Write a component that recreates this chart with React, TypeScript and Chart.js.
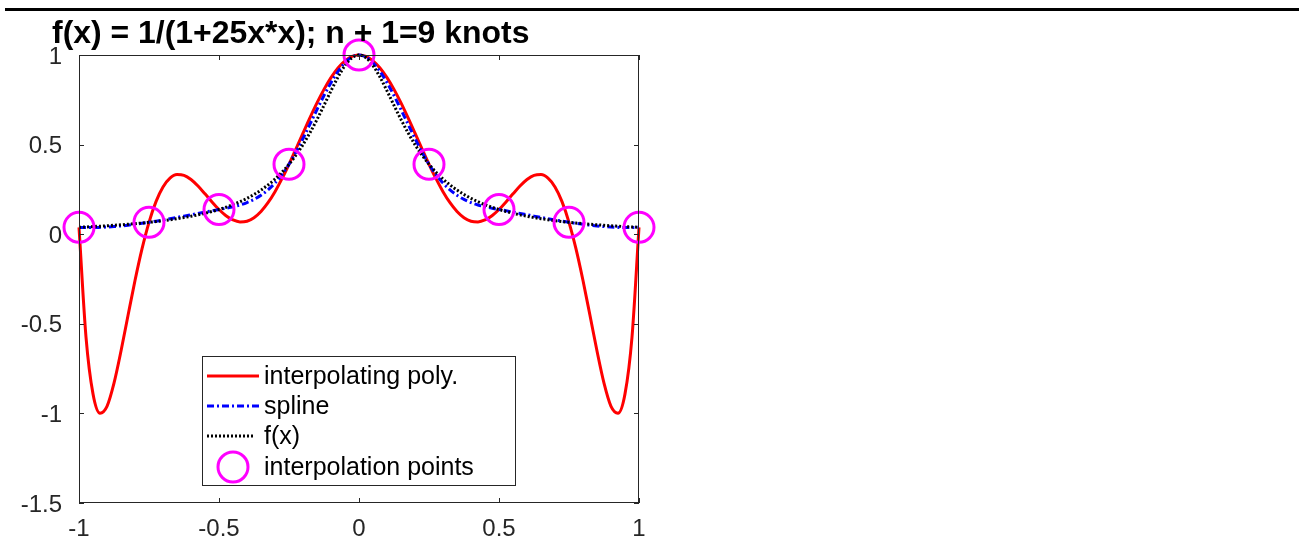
import { useEffect, useRef } from "react";
import { Chart, registerables } from "chart.js";

Chart.register(...registerables);

const W = 1299;
const H = 540;

const xs = [
  -1, -0.975, -0.95, -0.925, -0.9, -0.875, -0.85, -0.825, -0.8, -0.775,
  -0.75, -0.725, -0.7, -0.675, -0.65, -0.625, -0.6, -0.575, -0.55, -0.525,
  -0.5, -0.475, -0.45, -0.425, -0.4, -0.375, -0.35, -0.325, -0.3, -0.275,
  -0.25, -0.225, -0.2, -0.175, -0.15, -0.125, -0.1, -0.075, -0.05, -0.025,
  0,
  0.025, 0.05, 0.075, 0.1, 0.125, 0.15, 0.175, 0.2, 0.225, 0.25,
  0.275, 0.3, 0.325, 0.35, 0.375, 0.4, 0.425, 0.45, 0.475, 0.5,
  0.525, 0.55, 0.575, 0.6, 0.625, 0.65, 0.675, 0.7, 0.725, 0.75,
  0.775, 0.8, 0.825, 0.85, 0.875, 0.9, 0.925, 0.95, 0.975, 1,
];

const polyValues = [
  0.0385, -0.5738, -0.891, -0.9985, -0.9604, -0.831, -0.652, -0.4539, -0.2587, -0.0823,
  0.0664, 0.182, 0.2637, 0.3129, 0.3327, 0.3283, 0.3049, 0.2686, 0.2252, 0.1799,
  0.1379, 0.1033, 0.0794, 0.0686, 0.0726, 0.092, 0.1267, 0.1756, 0.2374, 0.3098,
  0.3902, 0.4759, 0.5636, 0.6503, 0.7328, 0.8083, 0.874, 0.9277, 0.9674, 0.9918,
  1.0,
  0.9918, 0.9674, 0.9277, 0.874, 0.8083, 0.7328, 0.6503, 0.5636, 0.4759, 0.3902,
  0.3098, 0.2374, 0.1756, 0.1267, 0.092, 0.0726, 0.0686, 0.0794, 0.1033, 0.1379,
  0.1799, 0.2252, 0.2686, 0.3049, 0.3283, 0.3327, 0.3129, 0.2637, 0.182, 0.0664,
  -0.0823, -0.2587, -0.4539, -0.652, -0.831, -0.9604, -0.9985, -0.891, -0.5738, 0.0385,
];

const splineValues = [
  0.0385, 0.0373, 0.0372, 0.0382, 0.04, 0.0427, 0.0461, 0.0503, 0.0551, 0.0605,
  0.0664, 0.0727, 0.0794, 0.0864, 0.0936, 0.101, 0.1085, 0.116, 0.1234, 0.1308,
  0.1379, 0.145, 0.153, 0.1631, 0.1765, 0.1943, 0.2176, 0.2477, 0.2857, 0.3329,
  0.3902, 0.4583, 0.5342, 0.6144, 0.6954, 0.7737, 0.8457, 0.9079, 0.9567, 0.9886,
  1.0,
  0.9886, 0.9567, 0.9079, 0.8457, 0.7737, 0.6954, 0.6144, 0.5342, 0.4583, 0.3902,
  0.3329, 0.2857, 0.2477, 0.2176, 0.1943, 0.1765, 0.1631, 0.153, 0.145, 0.1379,
  0.1308, 0.1234, 0.116, 0.1085, 0.101, 0.0936, 0.0864, 0.0794, 0.0727, 0.0664,
  0.0605, 0.0551, 0.0503, 0.0461, 0.0427, 0.04, 0.0382, 0.0372, 0.0373, 0.0385,
];

const fValues = [
  0.0385, 0.0404, 0.0424, 0.0447, 0.0471, 0.0497, 0.0525, 0.0555, 0.0588, 0.0624,
  0.0664, 0.0707, 0.0755, 0.0807, 0.0865, 0.0929, 0.1, 0.1079, 0.1168, 0.1267,
  0.1379, 0.1506, 0.1649, 0.1813, 0.2, 0.2215, 0.2462, 0.2747, 0.3077, 0.3459,
  0.3902, 0.4414, 0.5, 0.5664, 0.64, 0.7191, 0.8, 0.8767, 0.9412, 0.9846,
  1.0,
  0.9846, 0.9412, 0.8767, 0.8, 0.7191, 0.64, 0.5664, 0.5, 0.4414, 0.3902,
  0.3459, 0.3077, 0.2747, 0.2462, 0.2215, 0.2, 0.1813, 0.1649, 0.1506, 0.1379,
  0.1267, 0.1168, 0.1079, 0.1, 0.0929, 0.0865, 0.0807, 0.0755, 0.0707, 0.0664,
  0.0624, 0.0588, 0.0555, 0.0525, 0.0497, 0.0471, 0.0447, 0.0424, 0.0404, 0.0385,
];

const knotX = [-1, -0.75, -0.5, -0.25, 0, 0.25, 0.5, 0.75, 1];
const knotY = [0.0385, 0.0664, 0.1379, 0.3902, 1.0, 0.3902, 0.1379, 0.0664, 0.0385];

const xTickValues = [-1, -0.5, 0, 0.5, 1];
const xTickLabels = ["-1", "-0.5", "0", "0.5", "1"];
const yTickValues = [-1.5, -1, -0.5, 0, 0.5, 1];
const yTickLabels = ["-1.5", "-1", "-0.5", "0", "0.5", "1"];

const titleText = "f(x) = 1/(1+25x*x); n + 1=9 knots";
const legendLabels = ["interpolating poly.", "spline", "f(x)", "interpolation points"];

const RED = "#ff0000";
const BLUE = "#0000ff";
const BLACK = "#000000";
const MAGENTA = "#ff00ff";
const AXIS = "#262626";
const FONT = '"Liberation Sans", Arial, sans-serif';

const framePlugin = {
  id: "matlabFrame",
  afterDraw(chart: any) {
    const ctx: CanvasRenderingContext2D = chart.ctx;
    const sx = chart.scales.x;
    const sy = chart.scales.y;
    const { left, right, top, bottom } = chart.chartArea;
    ctx.save();

    // top rule
    ctx.fillStyle = "#000";
    ctx.fillRect(5, 8, W - 5, 3);

    // axes box
    ctx.strokeStyle = AXIS;
    ctx.lineWidth = 1;
    ctx.setLineDash([]);
    ctx.strokeRect(left + 0.5, top + 0.5, right - left - 1, bottom - top - 1);

    // inward ticks
    ctx.beginPath();
    xTickValues.forEach((v) => {
      const px = Math.round(sx.getPixelForValue(v)) + 0.5;
      ctx.moveTo(px, bottom);
      ctx.lineTo(px, bottom - 5);
      ctx.moveTo(px, top);
      ctx.lineTo(px, top + 5);
    });
    yTickValues.forEach((v) => {
      const py = Math.round(sy.getPixelForValue(v)) + 0.5;
      ctx.moveTo(left, py);
      ctx.lineTo(left + 5, py);
      ctx.moveTo(right, py);
      ctx.lineTo(right - 5, py);
    });
    ctx.stroke();

    // tick labels
    ctx.fillStyle = AXIS;
    ctx.font = `24px ${FONT}`;
    ctx.textAlign = "center";
    ctx.textBaseline = "middle";
    xTickValues.forEach((v, i) => {
      ctx.fillText(xTickLabels[i], sx.getPixelForValue(v), bottom + 26);
    });
    ctx.textAlign = "right";
    ctx.textBaseline = "middle";
    yTickValues.forEach((v, i) => {
      ctx.fillText(yTickLabels[i], left - 17, sy.getPixelForValue(v) + 2);
    });

    // title
    ctx.fillStyle = "#000";
    ctx.font = `bold 31px ${FONT}`;
    ctx.textAlign = "left";
    ctx.textBaseline = "alphabetic";
    ctx.save();
    ctx.translate(52, 43);
    ctx.scale(1.03, 1);
    ctx.fillText(titleText, 0, 0);
    ctx.restore();

    // legend
    const lx = 202.5, ly = 356.5, lw = 313, lh = 129;
    ctx.fillStyle = "#fff";
    ctx.fillRect(lx, ly, lw, lh);
    ctx.strokeStyle = AXIS;
    ctx.lineWidth = 1;
    ctx.strokeRect(lx, ly, lw, lh);

    const rows = [376, 406, 436, 467];
    const x0 = 207, x1 = 259;
    ctx.lineWidth = 3;
    ctx.strokeStyle = RED;
    ctx.setLineDash([]);
    ctx.beginPath(); ctx.moveTo(x0, rows[0]); ctx.lineTo(x1, rows[0]); ctx.stroke();
    ctx.strokeStyle = BLUE;
    ctx.setLineDash([7, 3, 2, 3]);
    ctx.beginPath(); ctx.moveTo(x0, rows[1]); ctx.lineTo(x1, rows[1]); ctx.stroke();
    ctx.strokeStyle = BLACK;
    ctx.setLineDash([2, 2]);
    ctx.beginPath(); ctx.moveTo(x0, rows[2]); ctx.lineTo(x1 - 4, rows[2]); ctx.stroke();
    ctx.setLineDash([]);
    ctx.strokeStyle = MAGENTA;
    ctx.beginPath(); ctx.arc(233, rows[3], 15, 0, Math.PI * 2); ctx.stroke();

    ctx.fillStyle = "#000";
    ctx.font = `25px ${FONT}`;
    ctx.textAlign = "left";
    ctx.textBaseline = "middle";
    legendLabels.forEach((t, i) => ctx.fillText(t, 264, rows[i] + 1));

    ctx.restore();
  },
};

export default function App() {
  const ref = useRef<HTMLCanvasElement>(null);

  useEffect(() => {
    const toXY = (ys: number[]) => xs.map((x, i) => ({ x, y: ys[i] }));
    const chart = new Chart(ref.current as HTMLCanvasElement, {
      type: "scatter",
      data: {
        datasets: [
          {
            label: legendLabels[3],
            data: knotX.map((x, i) => ({ x, y: knotY[i] })),
            showLine: false,
            pointRadius: 15,
            pointBorderWidth: 3,
            pointBorderColor: MAGENTA,
            pointBackgroundColor: "rgba(0,0,0,0)",
            clip: false,
            order: 0,
          } as any,
          {
            label: legendLabels[2],
            data: toXY(fValues),
            showLine: true,
            borderColor: BLACK,
            borderWidth: 3,
            borderDash: [2, 2],
            pointRadius: 0,
            cubicInterpolationMode: "monotone",
            clip: false,
            order: 1,
          } as any,
          {
            label: legendLabels[1],
            data: toXY(splineValues),
            showLine: true,
            borderColor: BLUE,
            borderWidth: 3,
            borderDash: [7, 3, 2, 3],
            pointRadius: 0,
            cubicInterpolationMode: "monotone",
            clip: false,
            order: 2,
          } as any,
          {
            label: legendLabels[0],
            data: toXY(polyValues),
            showLine: true,
            borderColor: RED,
            borderWidth: 3,
            pointRadius: 0,
            cubicInterpolationMode: "monotone",
            clip: false,
            order: 3,
          } as any,
        ],
      },
      options: {
        responsive: false,
        animation: false,
        devicePixelRatio: 1,
        events: [],
        layout: { padding: { left: 79, top: 55, right: W - 639, bottom: H - 503 } },
        plugins: {
          legend: { display: false },
          tooltip: { enabled: false },
          title: { display: false },
        },
        scales: {
          x: { type: "linear", min: -1, max: 1, display: false },
          y: { type: "linear", min: -1.5, max: 1, display: false },
        },
      },
      plugins: [framePlugin],
    });
    return () => chart.destroy();
  }, []);

  return (
    <canvas
      ref={ref}
      width={W}
      height={H}
      style={{ position: "fixed", left: 0, top: 0, width: W, height: H }}
    />
  );
}
